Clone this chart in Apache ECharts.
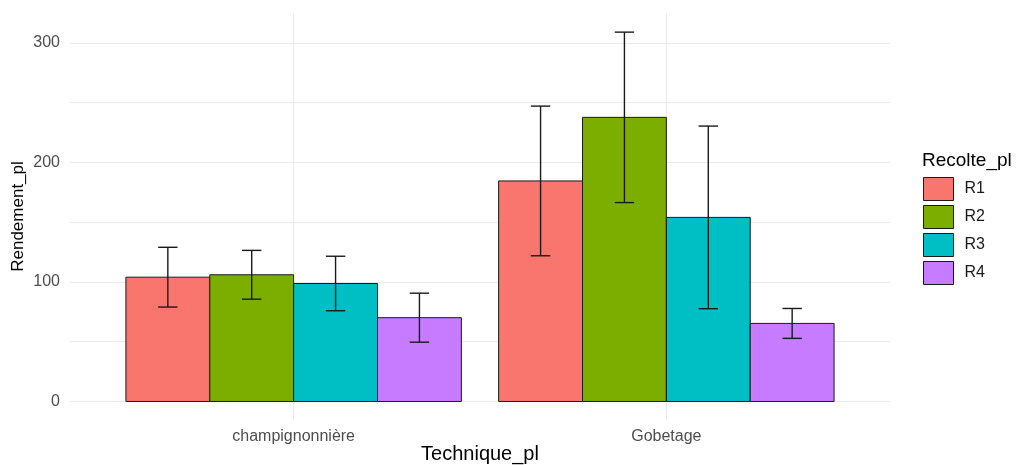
<!DOCTYPE html>
<html>
<head>
<meta charset="utf-8">
<script src="https://cdn.jsdelivr.net/npm/echarts@6/dist/echarts.min.js"></script>
<style>
  html, body { margin: 0; padding: 0; background: #ffffff; }
  #chart { width: 1026px; height: 465px; }
</style>
</head>
<body>
<div id="chart"></div>
<script>
// Yield per technique and harvest: mean with error half-width
const categories = ['champignonnière', 'Gobetage'];
const recoltes = ['R1', 'R2', 'R3', 'R4'];
const colors = ['#F8766D', '#7CAE00', '#00BFC4', '#C77CFF'];

const meanR1 = [104, 184.5];
const meanR2 = [106, 237.7];
const meanR3 = [98.7, 154];
const meanR4 = [70.1, 65.3];

const errR1 = [25, 62.6];
const errR2 = [20.4, 71.3];
const errR3 = [22.8, 76.4];
const errR4 = [20.5, 12.5];

const yTicks = [0, 100, 200, 300];
const yGrid = [0, 50, 100, 150, 200, 250, 300];

const means = [meanR1, meanR2, meanR3, meanR4];
const errs = [errR1, errR2, errR3, errR4];

// Dodged layout: 4 bars share 0.9 of a category unit
const dodge = 0.9;
const barW = dodge / recoltes.length;
const capW = 0.052;
const offsetOf = k => -dodge / 2 + barW * (k + 0.5);

const font = "'Liberation Sans', Arial, sans-serif";

const barSeries = recoltes.map((name, k) => ({
  type: 'custom',
  name: name,
  z: 10,
  itemStyle: { color: colors[k], borderColor: '#1a1a1a', borderWidth: 1 },
  data: categories.map((c, i) => [i + 1, means[k][i]]),
  renderItem: function (params, api) {
    const cx = api.value(0) + offsetOf(k);
    const p0 = api.coord([cx - barW / 2, api.value(1)]);
    const p1 = api.coord([cx + barW / 2, 0]);
    return {
      type: 'rect',
      shape: { x: p0[0], y: p0[1], width: p1[0] - p0[0], height: p1[1] - p0[1] },
      style: { fill: colors[k], stroke: '#1a1a1a', lineWidth: 1 }
    };
  }
}));

const errData = [];
recoltes.forEach((name, k) => {
  categories.forEach((c, i) => {
    errData.push([i + 1 + offsetOf(k), means[k][i] - errs[k][i], means[k][i] + errs[k][i]]);
  });
});

const errorSeries = {
  type: 'custom',
  name: 'errorbars',
  z: 12,
  data: errData,
  renderItem: function (params, api) {
    const x = api.value(0);
    const lo = api.value(1);
    const hi = api.value(2);
    const top = api.coord([x, hi]);
    const bot = api.coord([x, lo]);
    const l = api.coord([x - capW / 2, hi])[0];
    const r = api.coord([x + capW / 2, hi])[0];
    const st = { stroke: '#1a1a1a', lineWidth: 1.4 };
    return {
      type: 'group',
      children: [
        { type: 'line', shape: { x1: top[0], y1: top[1], x2: bot[0], y2: bot[1] }, style: st },
        { type: 'line', shape: { x1: l, y1: top[1], x2: r, y2: top[1] }, style: st },
        { type: 'line', shape: { x1: l, y1: bot[1], x2: r, y2: bot[1] }, style: st }
      ]
    };
  }
};

// Panel grid lines, kept beneath the bars
const gridSeries = {
  type: 'line',
  name: 'grid',
  data: [],
  z: 1,
  silent: true,
  markLine: {
    silent: true,
    z: 1,
    symbol: 'none',
    animation: false,
    label: { show: false },
    lineStyle: { color: '#ebebeb', width: 1.1, type: 'solid' },
    data: yGrid.map(v => ({ yAxis: v })).concat(categories.map((c, i) => ({ xAxis: i + 1 })))
  }
};

const chart = echarts.init(document.getElementById('chart'), null, { renderer: 'canvas' });
chart.setOption({
  animation: false,
  backgroundColor: '#ffffff',
  textStyle: { fontFamily: font },
  grid: { left: 70, right: 136, top: 13, bottom: 45, containLabel: false, outerBoundsMode: 'none' },
  title: {
    text: 'Recolte_pl',
    left: 922,
    top: 151,
    padding: 0,
    textStyle: { fontFamily: font, fontSize: 19, fontWeight: 'normal', color: '#000000' }
  },
  legend: {
    data: recoltes,
    orient: 'vertical',
    left: 923,
    top: 177,
    padding: 0,
    itemWidth: 30,
    itemHeight: 23,
    itemGap: 4,
    icon: 'rect',
    itemStyle: { borderColor: '#1a1a1a', borderWidth: 1 },
    textStyle: { fontFamily: font, fontSize: 16, color: '#1a1a1a', padding: [0, 0, 0, 6] },
    selectedMode: false
  },
  xAxis: {
    type: 'value',
    min: 0.4,
    max: 2.6,
    name: 'Technique_pl',
    nameLocation: 'middle',
    nameGap: 24,
    nameMoveOverlap: false,
    nameTextStyle: { fontFamily: font, fontSize: 20, color: '#000000' },
    axisLine: { show: false },
    axisTick: { show: false },
    splitLine: { show: false },
    axisLabel: {
      customValues: [1, 2],
      formatter: v => categories[Math.round(v) - 1] || '',
      margin: 9,
      fontFamily: font,
      fontSize: 16,
      color: '#4d4d4d'
    }
  },
  yAxis: {
    type: 'value',
    min: -15.5,
    max: 325,
    name: 'Rendement_pl',
    nameLocation: 'middle',
    nameGap: 43,
    nameMoveOverlap: false,
    nameTextStyle: { fontFamily: font, fontSize: 17, color: '#000000' },
    axisLine: { show: false },
    axisTick: { show: false },
    splitLine: { show: false },
    axisLabel: {
      customValues: yTicks,
      margin: 10,
      fontFamily: font,
      fontSize: 16,
      color: '#4d4d4d'
    }
  },
  series: [gridSeries].concat(barSeries, [errorSeries])
});
</script>
</body>
</html>
